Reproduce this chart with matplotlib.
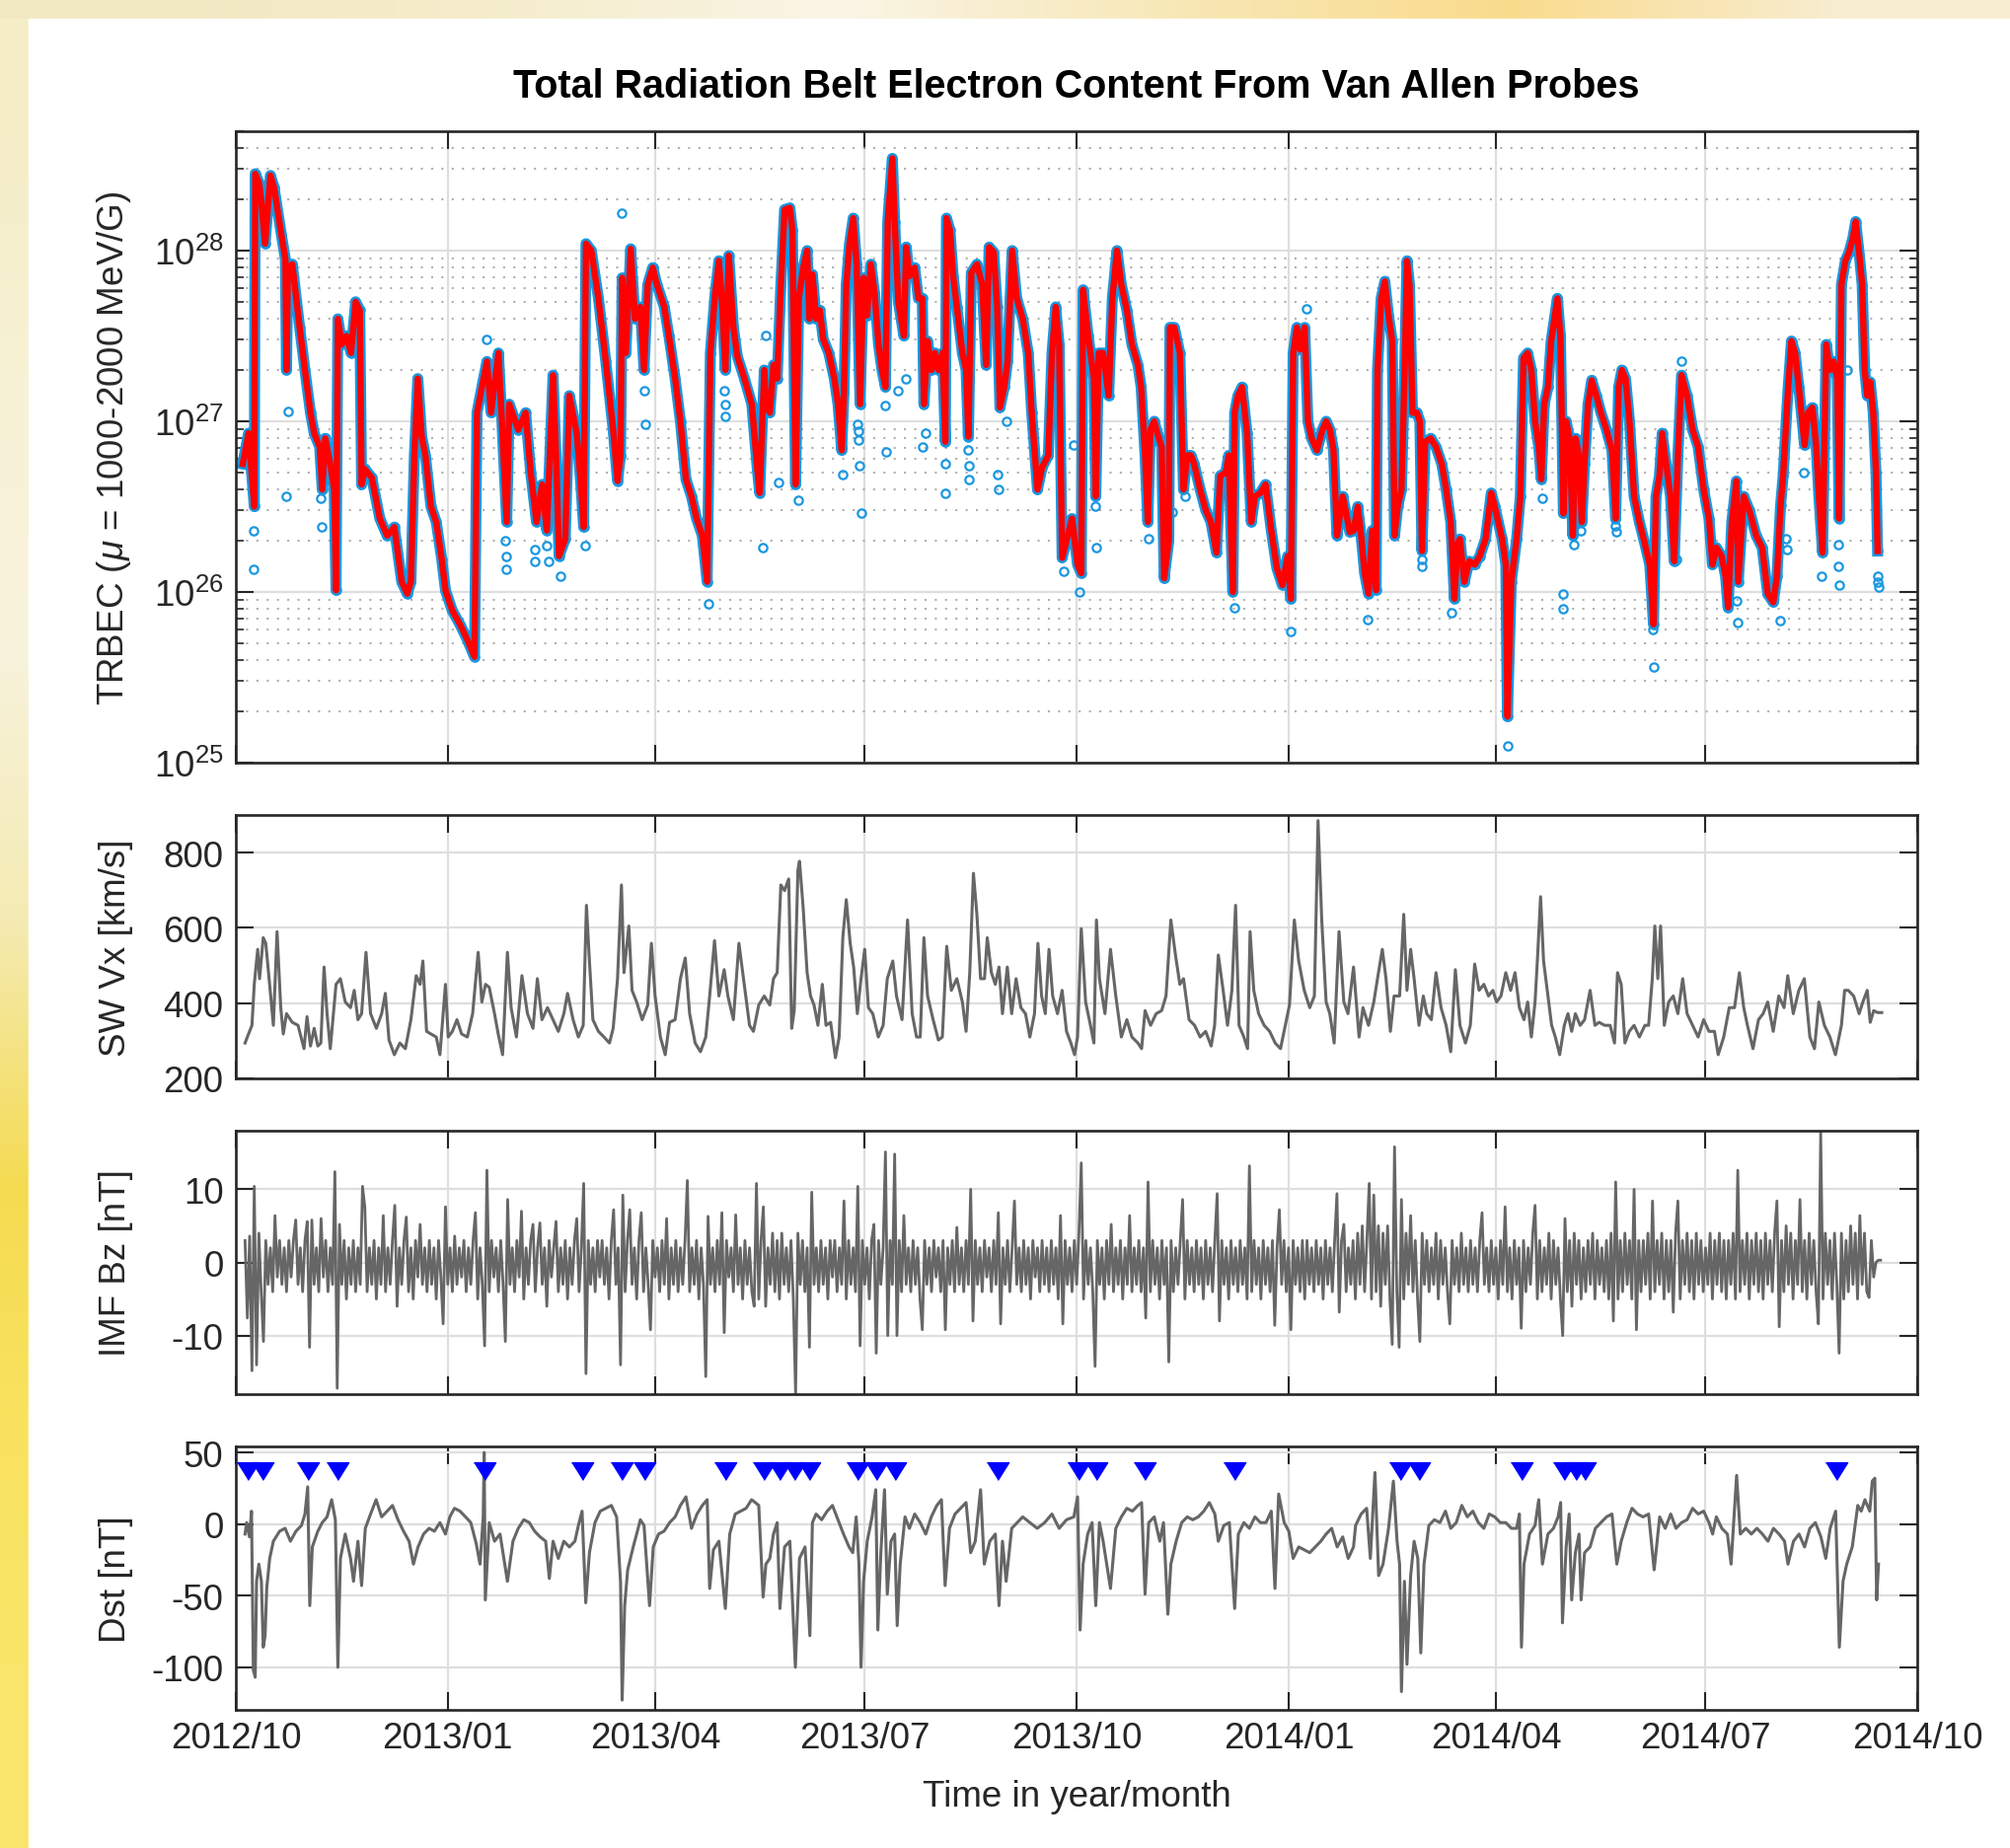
import numpy as np
import matplotlib
matplotlib.use('Agg')
import matplotlib.pyplot as plt
import matplotlib.dates as mdates
from matplotlib.ticker import LogLocator, NullFormatter, FixedLocator
from matplotlib.patches import Rectangle

plt.rcParams['font.family'] = ['Liberation Sans', 'DejaVu Sans']
plt.rcParams['mathtext.fontset'] = 'custom'
plt.rcParams['mathtext.rm'] = 'Liberation Sans'
plt.rcParams['mathtext.it'] = 'Liberation Sans:italic'
plt.rcParams['mathtext.bf'] = 'Liberation Sans:bold'
plt.rcParams['axes.unicode_minus'] = False

# ---------------- data (days since 2012-10-01) ----------------
start_date = np.datetime64('2012-10-01T00:00:00')
end_date = np.datetime64('2014-10-01T00:00:00')

# TRBEC smoothed curve: (day, log10 TRBEC)
trbec_days = [3, 5.5, 8, 8.4, 10, 11, 12.7, 15, 16.6, 19.8, 21.5, 22, 22.6, 24.5, 27.7, 30, 32.4, 34, 36.4, 37.5,
    38.8, 41, 42.7, 43.5, 44.3, 46, 48, 50, 52, 53.8, 54.6, 56, 59, 62.5, 65.7, 68.8, 72, 74.4, 76, 77.5,
    79, 80.7, 82.3, 84.7, 87, 89.4, 91, 94, 97.3, 100.5, 103.6, 104.7, 106.8, 109, 110.8, 114, 115.5, 117.6, 118.7, 122.6,
    125.8, 128, 130.5, 133, 135, 137.7, 139, 140.3, 143, 144.8, 148, 149.5, 151, 152, 154.3, 157.4, 160.6, 163.8, 165.7, 167,
    167.7, 169.3, 171.4, 173.3, 175.6, 177.2, 178.8, 181, 182.8, 186, 188, 190.7, 193, 195.4, 197.8, 200, 202.5, 204.6, 206, 208,
    209.7, 211.2, 212.5, 214, 216, 217.7, 220.8, 224, 226.3, 227.4, 229.4, 230, 231.8, 233.4, 235, 236.6, 238.2, 240.5, 241.6, 243,
    244.4, 246.3, 248, 249, 250.3, 251.9, 253.5, 255, 257.4, 259.8, 261.4, 263, 264, 265, 266.4, 268, 269.5, 271, 272.5, 274,
    275.7, 277.3, 279, 280.5, 282, 283, 285, 286, 287.6, 290, 291, 292.4, 294.7, 296.3, 298, 298.7, 300.3, 302, 303.5, 305,
    306.8, 308, 308.5, 310, 311.4, 313, 315.4, 317, 318, 319.3, 321.7, 324, 325.7, 327, 329, 330.5, 331.7, 333.6, 335, 337,
    339, 341.6, 344, 345.5, 348, 350, 352.7, 354.3, 355.9, 357.4, 358.7, 360.6, 363, 365.4, 367, 367.8, 370, 372.5, 373.3, 374.6,
    376.5, 378.9, 380.5, 382.5, 384.4, 386.8, 389, 391.6, 393, 394.7, 395.9, 397, 398.7, 400, 401.9, 403, 405, 405.5, 407.4, 409.8,
    411.4, 413, 414.6, 416, 418.6, 421, 423.3, 425.7, 427.3, 429.7, 431, 432.8, 433.6, 435, 436.8, 439, 440.8, 442.4, 444.8, 447,
    449.5, 451.9, 454.3, 456.6, 458, 459, 460.6, 462, 464, 465.4, 467, 469.3, 471.7, 473.3, 475, 476.5, 478, 480.5, 482, 483.6,
    485.3, 487, 488.5, 490, 491.7, 493.3, 495, 495.6, 497.2, 498.8, 500.4, 502, 503, 504.4, 506, 507.3, 508.4, 509.5, 510.8, 512.7,
    514, 514.9, 516.3, 518.7, 521, 523.5, 525.4, 527.4, 529, 530.3, 531.4, 533.3, 535.4, 537.8, 540, 542.5, 545, 546.5, 548, 549.7,
    551.3, 552, 553.7, 556, 557.6, 559, 560.8, 562.4, 564, 565.6, 566.7, 568, 569.6, 571, 572.4, 573.7, 575, 576.3, 577.5, 579,
    580.4, 581.6, 583, 584.3, 585.5, 587, 588.6, 590.6, 592.6, 595, 597.4, 599, 600.3, 601.7, 603.3, 605, 607, 609.3, 611.7, 613.8,
    615.4, 616.5, 618, 619.2, 620.4, 622.8, 624.4, 626, 627.6, 630, 632.4, 634.8, 637.2, 639.5, 641, 642.7, 645, 646.7, 647.8, 649.4,
    651.4, 652.2, 654.6, 657, 660, 662.6, 665, 667.4, 669, 670.6, 671.7, 673.8, 675.3, 676.9, 678.5, 681, 682.5, 684.4, 686, 687.2,
    688.8, 690.4, 692, 693.6, 695.2, 696, 697, 698.7, 700.3, 701.9, 703.2, 704.8, 706, 707.1, 708.2, 709.5, 710.8, 712, 712.7]
trbec_log = [26.75, 26.93, 26.5, 28.45, 28.4, 28.3, 28.04, 28.44, 28.37, 28.09, 27.95, 27.3, 27.9, 27.92, 27.55, 27.3, 27.05, 26.93, 26.85, 26.6,
    26.9, 26.75, 26.6, 26.01, 27.6, 27.45, 27.5, 27.4, 27.7, 27.65, 26.63, 26.72, 26.67, 26.43, 26.33, 26.38, 26.06, 25.99, 26.06, 26.8,
    27.25, 26.91, 26.8, 26.5, 26.41, 26.19, 26.01, 25.89, 25.81, 25.72, 25.62, 27.05, 27.2, 27.35, 27.05, 27.4, 27.0, 26.41, 27.1, 26.95,
    27.05, 26.7, 26.41, 26.63, 26.36, 27.27, 26.8, 26.21, 26.31, 27.15, 26.93, 26.68, 26.38, 28.04, 28.0, 27.72, 27.35, 26.95, 26.65, 26.8,
    27.84, 27.4, 28.01, 27.6, 27.67, 27.3, 27.8, 27.9, 27.8, 27.67, 27.5, 27.25, 27.0, 26.66, 26.56, 26.43, 26.33, 26.06, 27.4, 27.74,
    27.94, 27.67, 27.3, 27.97, 27.55, 27.38, 27.25, 27.1, 26.73, 26.58, 27.3, 27.1, 27.05, 27.33, 27.25, 27.8, 28.24, 28.25, 28.12, 26.63,
    27.72, 27.9, 28.0, 27.6, 27.86, 27.6, 27.65, 27.48, 27.4, 27.25, 27.1, 26.83, 27.17, 27.8, 28.04, 28.19, 27.92, 27.1, 27.84, 27.62,
    27.92, 27.75, 27.45, 27.3, 27.2, 28.17, 28.54, 28.17, 27.7, 27.5, 28.02, 27.85, 27.9, 27.72, 27.72, 27.1, 27.47, 27.3, 27.4, 27.3,
    27.4, 26.88, 28.19, 28.12, 27.85, 27.67, 27.4, 27.3, 26.91, 27.87, 27.92, 27.8, 27.33, 28.02, 27.99, 27.67, 27.08, 27.2, 27.35, 28.0,
    27.72, 27.6, 27.4, 27.05, 26.6, 26.73, 26.8, 27.4, 27.67, 27.45, 26.2, 26.3, 26.43, 26.16, 26.11, 27.77, 27.5, 27.25, 26.56, 27.4,
    27.4, 27.15, 27.72, 28.0, 27.8, 27.65, 27.45, 27.33, 27.2, 26.8, 26.41, 26.95, 27.0, 26.93, 26.85, 26.08, 26.3, 27.55, 27.55, 27.4,
    26.6, 26.8, 26.8, 26.75, 26.6, 26.48, 26.41, 26.23, 26.68, 26.7, 26.8, 26.0, 27.05, 27.15, 27.2, 26.93, 26.41, 26.56, 26.58, 26.63,
    26.36, 26.14, 26.04, 26.21, 25.96, 27.4, 27.55, 27.42, 27.55, 27.0, 26.9, 26.83, 26.95, 27.0, 26.95, 26.83, 26.33, 26.56, 26.46, 26.35,
    26.36, 26.5, 26.33, 26.11, 25.99, 26.36, 26.01, 27.3, 27.72, 27.82, 27.62, 27.47, 26.33, 26.5, 26.6, 27.25, 27.94, 27.8, 27.05, 27.05,
    27.0, 26.24, 26.88, 26.9, 26.85, 26.75, 26.6, 26.41, 25.96, 26.28, 26.31, 26.06, 26.18, 26.16, 26.21, 26.31, 26.58, 26.5, 26.41, 26.31,
    26.16, 25.27, 26.06, 26.31, 26.56, 27.37, 27.4, 27.3, 27.0, 26.85, 26.66, 27.1, 27.2, 27.47, 27.6, 27.72, 27.5, 26.46, 27.0, 26.9,
    26.33, 26.9, 26.8, 26.41, 26.75, 27.1, 27.24, 27.15, 27.05, 26.95, 26.83, 26.43, 27.2, 27.3, 27.25, 27.0, 26.56, 26.41, 26.28, 26.16,
    25.81, 26.56, 26.68, 26.93, 26.8, 26.56, 26.18, 26.8, 27.27, 27.15, 26.95, 26.85, 26.6, 26.43, 26.16, 26.26, 26.21, 26.09, 25.91, 26.41,
    26.65, 26.06, 26.56, 26.48, 26.33, 26.26, 25.99, 25.94, 26.09, 26.51, 26.68, 27.18, 27.47, 27.4, 27.2, 26.86, 27.05, 27.08, 26.86, 26.56,
    26.23, 27.45, 27.3, 27.35, 27.25, 26.43, 27.8, 27.94, 27.99, 28.07, 28.17, 27.97, 27.8, 27.3, 27.15, 27.23, 27.05, 26.7, 26.24]

# isolated raw TRBEC samples away from the smoothed curve: (day, log10 TRBEC)
outlier_days = [7.5, 7.6, 22.6, 22, 37.2, 37, 109, 117, 117.2, 117.4, 129.7, 129.9, 135, 136, 140.8, 151.6, 167.4, 177.5,
    177.6, 212, 212.3, 212.6, 230, 228.6, 235.8, 205, 244, 263.5, 270, 270.2, 270.4, 270.6, 271.4, 282, 282.2, 287.5, 291,
    298, 299.5, 308, 308.2, 318, 318.2, 318.4, 330.8, 331, 334.4, 359.3, 363.8, 366.2, 373.3, 373.5, 396.3, 406.6, 412,
    433.6, 457.8, 464.6, 491.4, 514.7, 514.9, 567, 576, 576.2, 580.7, 584, 527.9, 552, 599, 599.2, 615.3, 615.5, 625.5,
    627.6, 651.9, 651.7, 670.5, 673, 673.2, 688.5, 695.5, 695.7, 695.9, 712.7, 712.9, 713.1, 680.5, 699.7]
outlier_log = [26.36, 26.13, 27.06, 26.56, 26.38, 26.55, 27.48, 26.30, 26.21, 26.13, 26.25, 26.18, 26.27, 26.18, 26.09, 26.27, 28.22, 27.18,
    26.98, 27.18, 27.1, 27.03, 27.5, 26.26, 26.64, 25.93, 26.54, 26.69, 26.98, 26.94, 26.89, 26.74, 26.46, 27.09, 26.82, 27.18, 27.25,
    26.85, 26.93, 26.75, 26.58, 26.83, 26.74, 26.66, 26.69, 26.6, 27.0, 26.12, 26.86, 26.0, 26.5, 26.26, 26.31, 26.47, 26.56,
    25.91, 25.77, 27.66, 25.84, 26.19, 26.15, 26.55, 25.99, 25.9, 26.28, 26.36, 25.88, 25.1, 26.39, 26.35, 25.78, 25.56, 26.19,
    27.35, 25.82, 25.95, 25.83, 26.31, 26.25, 26.09, 26.28, 26.15, 26.04, 26.09, 26.06, 26.03, 26.7, 27.3]

# Solar wind Vx (km/s)
vx_days = [4, 5.5, 7, 8, 9.5, 10.3, 11.9, 13, 14.2, 16.3, 17.9, 19.5, 20.6, 22, 24.5, 27, 29.6, 30.9, 32.4, 34,
    35.6, 36.9, 38.3, 39.6, 41, 43.5, 45.4, 47.5, 49.8, 51.4, 53, 54.6, 56.5, 58.5, 61, 63.3, 64.9, 66.5, 68.8, 71.2,
    73.6, 76, 78.3, 80, 81.2, 82.8, 84.7, 87, 88.6, 91, 92.2, 94, 96, 98, 100.5, 102.8, 105.2, 106.8, 108.4, 110,
    112.3, 113.9, 115.8, 117.9, 119.5, 121.8, 124.2, 126.6, 129, 130.9, 132.9, 135.3, 137.7, 140, 142.4, 144, 146.4, 148.7, 150.8, 152.2,
    153.5, 155, 157.4, 159.8, 162.2, 163.8, 165.7, 167.4, 168.5, 170.6, 172, 174, 176.4, 178.8, 180.4, 182, 184.3, 186.4, 188.3, 190.7,
    193, 195.1, 197, 199.4, 201.7, 204, 205.7, 207.8, 209.7, 212, 213.6, 216, 218.4, 220.7, 223, 224.7, 227, 229.4, 231.8, 233.4,
    235, 236.6, 238.2, 240, 241.3, 242.4, 244, 244.7, 246.3, 248, 249.5, 251, 252.7, 254.6, 256.2, 258.2, 260.3, 261.9, 263.5, 265,
    266.7, 268.2, 269.8, 271.4, 273, 274.6, 276.5, 278.9, 281, 282.8, 285.2, 286.8, 289.2, 291.6, 293.6, 295.5, 297.1, 298.7, 300.3, 302.7,
    305, 306.7, 308.6, 310.6, 313, 315.4, 317, 318.6, 320.2, 321.7, 323.3, 325, 326.2, 328, 329.7, 331.3, 332.8, 334.9, 336.8, 338.7,
    340.8, 342.8, 344.7, 346.7, 348.2, 349.8, 351.4, 353, 354.6, 356.7, 358.7, 360.6, 362.5, 364.1, 365.4, 367, 368.9, 371, 372.5, 373.6,
    374.9, 377.3, 379.7, 382, 384.4, 386.8, 389, 391.6, 393.2, 394.7, 397.1, 399.5, 401.9, 403.8, 405.9, 407.9, 409.8, 411.4, 413.8, 416.2,
    418.6, 421, 423.4, 424.9, 426.5, 428.6, 430.5, 432.4, 434, 435.5, 437.6, 439.2, 440.3, 441.9, 444, 446.4, 448.8, 451.2, 453.5, 455.6,
    457.4, 459.5, 461.4, 463.8, 466.2, 468.2, 469.8, 471.4, 473.3, 474.9, 476.8, 478.9, 481, 482.8, 485.2, 487.6, 489.3, 491.7, 494, 495.6,
    497.7, 499.3, 501.2, 502.8, 505.2, 507, 508.4, 510, 511.5, 513.6, 515.5, 517, 519, 521, 523.2, 525.4, 527.4, 529.4, 531.4, 533.8,
    535.9, 537.8, 539.7, 541.8, 543.8, 545.7, 547.3, 549.2, 551.3, 553.4, 555.3, 557.2, 559.2, 560.8, 562.4, 564, 565, 566.4, 567.7, 569.6,
    571.2, 572.8, 574.7, 576.7, 578.3, 579.9, 581.5, 583.6, 585.5, 587.9, 590, 591.8, 594.2, 596.6, 598.5, 599.8, 601.4, 603, 604.9, 607,
    609.3, 611.7, 613.3, 614.9, 616, 617.3, 618.5, 620.1, 622, 624, 626, 628.1, 630, 632.4, 634.8, 637.2, 639.5, 641.9, 643.5, 645.9,
    648.3, 650.6, 652.7, 654.6, 656.2, 658.6, 661, 663, 665, 667.4, 669.8, 672.1, 673.7, 676.1, 678.5, 680.9, 683.3, 685.3, 687.2, 689.6,
    692, 694.4, 697, 698.4, 700, 702.3, 704.7, 706.3, 708.2, 709.5, 711, 712.7, 714.5]
vx_vals = [294, 318, 341, 450, 543, 465, 574, 559, 481, 341, 590, 388, 318, 372, 349, 341, 279, 364, 286, 333,
    286, 294, 496, 372, 279, 450, 465, 403, 388, 434, 356, 372, 535, 372, 333, 372, 426, 302, 263, 294,
    279, 356, 473, 450, 512, 325, 318, 310, 263, 450, 310, 325, 356, 318, 310, 372, 535, 403, 450, 442,
    372, 318, 263, 535, 388, 310, 473, 372, 333, 465, 356, 388, 356, 325, 372, 426, 356, 310, 341, 660,
    512, 356, 325, 310, 294, 333, 465, 714, 481, 605, 434, 403, 356, 395, 559, 419, 310, 263, 349, 356,
    465, 520, 372, 294, 271, 310, 419, 566, 419, 489, 419, 356, 559, 450, 341, 325, 395, 419, 395, 465,
    481, 714, 699, 730, 333, 380, 753, 777, 652, 481, 419, 395, 341, 450, 341, 349, 255, 310, 574, 675,
    559, 496, 372, 465, 543, 388, 372, 310, 341, 465, 512, 419, 356, 621, 372, 310, 310, 574, 419, 356,
    302, 310, 551, 434, 465, 403, 325, 481, 745, 636, 465, 465, 574, 481, 450, 496, 372, 496, 372, 465,
    388, 372, 310, 372, 559, 419, 372, 543, 419, 372, 434, 325, 294, 263, 310, 598, 403, 341, 294, 621,
    465, 372, 543, 419, 310, 356, 310, 294, 279, 380, 341, 372, 380, 419, 621, 528, 450, 465, 356, 341,
    310, 325, 286, 341, 528, 434, 341, 434, 660, 341, 310, 279, 590, 434, 372, 341, 325, 294, 279, 341,
    395, 621, 512, 434, 388, 419, 885, 621, 403, 372, 294, 590, 403, 372, 496, 310, 388, 341, 403, 465,
    543, 465, 325, 419, 419, 636, 434, 543, 465, 341, 419, 372, 356, 481, 388, 341, 271, 489, 341, 294,
    341, 504, 434, 450, 419, 434, 403, 419, 481, 434, 481, 388, 356, 403, 310, 403, 512, 683, 512, 419,
    341, 310, 263, 341, 372, 325, 372, 341, 356, 434, 341, 349, 341, 341, 294, 481, 450, 294, 325, 341,
    310, 341, 341, 465, 605, 465, 605, 341, 403, 419, 372, 465, 372, 341, 310, 356, 325, 325, 263, 310,
    388, 388, 481, 388, 341, 279, 356, 372, 403, 325, 419, 388, 473, 372, 434, 465, 310, 279, 403, 341,
    310, 263, 341, 434, 434, 419, 372, 403, 434, 349, 380, 375, 375]

# IMF Bz (nT), one value per day starting at bz_first_day
bz_first_day = 4
bz_vals = [3, -7.6, 3.6, -14.8, 10.4, -14, 4, -4, -10.8, 3, -3, 2, -4, 6.4, -2, 3,
    -3, 2, -4, 3, -2, 3, 5.8, -3, 2, -4, 3, 5.6, -11.6, 5.8, -3, 2, -4, 6, -2, 3,
    -4, 2, -3, 12.4, -17.2, 5.2, -3, 3, -5, 2, -3, 3, -4, 2, -3, 10.4, 7.6, -4, 2, -3,
    3, -5, 2, -3, 6.4, -4, 2, -3, 3, 7.8, -6, 2, -3, 3, 6.2, -4, 2, -5, 3, -2,
    5.2, -3, 2, -4, 3, -3, 2, -5, 3, -2, -8.4, 7.6, -3, 2, -4, 3.6, -3, 2, -2, 3,
    -4, 2, -3, 3, 6.8, -5, 2, -3, -11.4, 12.6, -4, 3, -2, 2, -4, 3, -3, -10.8, 8.6, -3,
    2, -4, 3, -2, 7, -5, 2, -3, 3, 5.2, -4, 2, 5.4, -3, 2, -6, 3, -2, 2, 5.6,
    -4, 2, -3, 3, -5, 2, -3, 3, 6, -4, 2, 10.8, -15.2, 3, -3, 2, -4, 3, -2, 3,
    -3, 2, -5, 3, 7.2, -3, 2, -14, 9.2, -4, 3, 7.2, -3, 2, -5, 3, 6.8, -4, 2, -3,
    -9.2, 3, -2, 2, -4, 3, -3, 6, -5, 2, -3, 3, -4, 2, -3, 3, 11.2, -4, 2, -3,
    3, -5, 2, -3, -15.6, 6.3, -3, 2, -4, 3, -3, 6.8, -9.6, 3, -2, 2, -4, 6.5, -3, 2,
    -5, 3, -3, 2, -4, -6, 10.8, -5, 3, 7.6, -6, 2, -3, 4, -4, 3, -5, 4, -3, 2,
    -4, 3, -5, -18, 4, -3, 3, -4, 2, -11.6, 9.6, -3, 2, -4, 3, -3, 2, -5, 3, -2,
    3, -4, 2, -3, 8.4, -5, 3, -3, 2, -4, 10.4, -11.4, 3, -3, 2, -5, 3, 5.2, -12.4, 3,
    -3, 2, 15.1, -10, 3, -3, 14.8, -10, 3, -4, 6.4, -3, 2, -4, 3, -3, 2, -5, -9.2, 3,
    -3, 2, -4, 3, -2, 2, -4, 3, -9.2, 2, -3, 3, -4, 4.8, -3, 2, -4, 3, -3, 10,
    -8, 3, -3, 2, -4, 3, -2, 2, -4, 3, -3, 6.8, -8.4, 2, -3, 3, -4, 2, 8.4, -3,
    2, -4, 3, -3, 2, -5, 3, -2, 2, -4, 3, -3, 2, -4, 3, -3, 2, -5, 6.4, -8.4,
    3, -3, 2, -4, 3, -3, 4, 13.6, -5, 3, -3, 2, -4, -14.2, 3, -3, 2, -5, 3, -3,
    5.2, -4, 2, -3, 3, -5, 2, -3, 6.4, -4, 2, -3, 3, -4, 2, -7.6, 11, -4, 3, -3,
    2, -5, 3, -3, 2, -13.6, 3, -4, 2, -3, 3, 8.6, -5, 3, -3, 2, -4, 3, -3, 2,
    -5, 3, -3, 2, -4, 3, 9.4, -8, 3, -3, 2, -5, 3, -3, 2, -4, 3, -3, 2, -5,
    13.2, -4, 3, -3, 2, -5, 3, -3, 2, -4, 3, -8.6, 2, 7.2, -3, 3, -4, 2, -9.2, 3,
    -3, 2, -4, 3, -5, 3, -3, 2, -4, 3, -3, 2, -5, 3, -3, 2, -4, 3, 9.4, -6.8,
    3, 5.2, -4, 2, -3, 3, -5, 4, -3, 5, -4, 3, 10.8, -5, 9.2, -4, 5, -6, 4, -3,
    5, -5, -11.2, 15.8, -4, -11.6, 8.6, -5, 4, -3, 6.4, -4, 3, -5, -10.8, 4, -3, 3, -4, 2,
    -3, 4, -5, 3, -3, 2, -4, -8.4, 3, -3, 2, -4, 4, -3, 2, -4, 3, -3, 2, -4,
    3, 6.8, -3, 2, -4, 3, -3, 2, -5, 3, -3, 7.6, -4, 2, -5, 3, -3, 2, -9, 3,
    -4, 2, -3, 4, 7.8, -5, 3, -4, 2, -3, 4, -5, 3, -3, 2, -5, -10, 6, -4, 3,
    -6, 4, -3, 3, -5, 2, -4, 3, -3, 4, -5, 3, -3, 2, -4, 3, -5, 4, -8, 11,
    -5, 3, -4, 4, -3, 3, -5, 10, -9.2, 3, -4, 3, -3, 4, -5, 8.4, -4, 3, -3, 4,
    -5, 3, -4, 3, -6.8, 4, 8.4, -5, 3, -3, 4, -4, 3, -5, 4, -3, 3, -4, 2, -3,
    4, -5, 3, -3, 4, -4, 3, -5, 3, -3, 4, -5, 12.6, -4, 3, -3, 4, -5, 3, -3,
    4, -4, 3, -5, 4, -3, 3, -4, 4, 8.4, -8.8, 3, -4, 5, -3, 4, -5, 3, -3, 8.6,
    -4, 3, -5, 4, -3, 3, -4, -8.4, 17.8, -5, 4, -3, 3, -5, 4, -3, -12.4, 4, -5, 3,
    -4, 5, -3, 4, -5, 6.4, -3, 4, -4, -4.8, 3, -2, 0, 0.3, 0.3]

# Dst (nT)
dst_days = [4, 4.7, 5.9, 6.8, 7.6, 8.4, 9, 10, 11.1, 11.9, 12.7, 13.4, 14.7, 16.3, 19, 21.4, 23.7, 26.1, 28.5, 30,
    31.2, 32.1, 33.2, 35.6, 37.5, 39.6, 41.6, 43.2, 44.3, 45.4, 47.5, 49.8, 51.1, 53, 54.6, 56.2, 58.5, 60.9, 63.3, 65.7,
    68, 70.4, 72.8, 75.2, 77.1, 79.1, 81.5, 83.9, 86.2, 88.6, 91, 92.9, 94.9, 97.3, 99.7, 102, 104.4, 106, 107.4, 107.8,
    108.3, 110, 112.3, 114.7, 117.9, 120.3, 122.6, 125, 127.4, 129.7, 132.1, 134.5, 136.1, 137.7, 140, 142.4, 144.8, 147.2, 148.7, 150.3,
    151.9, 153.5, 155.9, 158.2, 160.6, 163, 165.3, 167, 167.7, 168.8, 170.1, 172.5, 174, 175.6, 177.2, 179.6, 181.2, 183.5, 185.9, 188.3,
    190.7, 193, 195.4, 197.8, 200.2, 202.5, 204.6, 205.7, 207.3, 209.7, 212.5, 214.4, 216.8, 219.1, 221.5, 223.9, 225.5, 227, 228.9, 230.1,
    231.8, 233.4, 235, 236.2, 238.2, 240.5, 242.9, 244.7, 247.1, 249.2, 250.3, 251.9, 254.3, 256.7, 259, 261.4, 263.8, 266.2, 267.8, 269.3,
    270.5, 271.4, 272.5, 274.1, 276.2, 277.8, 278.7, 280, 281.6, 282.8, 284.4, 286, 287.1, 288.4, 290.5, 292.4, 294.7, 297.1, 299.5, 301.9,
    304.3, 306.3, 307.9, 309.8, 312.2, 314.6, 317, 319, 321, 323.3, 324.9, 327.3, 329.7, 331.3, 332.8, 334.4, 336.8, 339.2, 341.6, 344.7,
    347.9, 351.1, 354.3, 357.4, 360.6, 363.8, 365.4, 366.5, 367.8, 369.8, 371.7, 373.3, 374.9, 376.5, 379.7, 382, 384.4, 386.8, 389.2, 391.6,
    393.2, 394.7, 396.3, 398.7, 401.1, 402.7, 404.6, 405.9, 408.2, 410.6, 413, 415.4, 417.8, 420.2, 422.6, 425, 426.5, 428.9, 431.3, 433.6,
    435.2, 437.6, 440, 442.4, 444.8, 447.2, 449.5, 451.1, 452.7, 455.1, 457.1, 459, 461.4, 463.8, 466.2, 468.6, 471, 473.3, 475.7, 478.1,
    480.5, 482.9, 485.2, 486.1, 488.5, 490.9, 492.5, 494.5, 496.1, 498, 500.4, 502.5, 504.1, 505.2, 506, 507.3, 508.4, 510, 511.5, 513.1,
    514.4, 515.8, 517.9, 520.3, 522.7, 525.1, 527.4, 529.8, 532.2, 534.6, 537, 539.4, 541.8, 544.1, 546.5, 548.9, 551.3, 553.7, 556, 557.2,
    558.1, 559.2, 561.6, 564, 565.6, 567.2, 569.6, 572, 574, 575.1, 575.9, 577.5, 578.8, 579.9, 581.5, 583.1, 584, 585.5, 587.9, 590.2,
    592.6, 595, 597.4, 599.5, 601.4, 603.8, 606.1, 608.5, 610.9, 613.3, 615.7, 618.1, 620.5, 622.9, 625.2, 627.6, 630, 632.4, 634.8, 637.2,
    639.5, 641.1, 642.7, 645.1, 647.5, 649.1, 651.5, 653.1, 655.5, 657.9, 660.3, 662.7, 665.1, 667.5, 669.9, 672.3, 673.8, 676.2, 678.6, 681,
    683.3, 685.7, 688.1, 690.2, 692.1, 694.5, 696.1, 697.7, 699.3, 701.7, 704.1, 705.6, 707.2, 709.3, 710.4, 711.5, 712.3, 713.1]
dst_vals = [-7, 1, -9, 9, -102, -107, -40, -28, -40, -86, -78, -45, -24, -12, -5, -3, -12, -5, -1, 7,
    26, -57, -16, -5, 1, 5, 17, 3, -100, -24, -7, -24, -40, -12, -43, -3, 7, 17, 5, 9,
    13, 3, -5, -12, -28, -16, -7, -3, -5, 1, -7, 5, 11, 9, 5, 1, -14, -28, 5, 50,
    -53, 1, -12, -7, -40, -12, -3, 3, 1, -5, -9, -12, -38, -12, -24, -12, -16, -12, -1, 9,
    -55, -20, 1, 9, 11, 13, 5, -40, -123, -57, -32, -16, -7, 3, -1, -57, -16, -7, -5, 1,
    5, 13, 19, -3, 7, 13, 17, -45, -18, -12, -59, -7, 7, 9, 11, 17, 15, 13, -51, -28,
    -24, -7, 1, -59, -16, -12, -100, -24, -16, -78, 1, 7, 3, 9, 13, 3, -7, -16, -20, 5,
    -28, -100, -40, -12, 5, 24, -74, -20, 24, -49, -12, -7, -71, -28, 5, -3, 7, 1, -7, 5,
    13, 17, -43, -3, 7, 11, 15, -20, -12, 24, -28, -12, -7, -57, -12, -40, -3, 1, 5, 1,
    -3, 1, 7, -3, 3, 5, 19, -74, -28, -7, 1, -57, 1, -12, -45, -3, 5, 11, 9, 13,
    15, -49, 1, 5, -12, 1, -63, -28, -12, 1, 5, 3, 5, 9, 15, 7, -12, -1, 1, -59,
    -7, 1, -3, 5, 1, 1, 9, -45, 21, 1, -5, -24, -16, -18, -20, -16, -12, -7, -3, -16,
    -9, -24, -16, -1, 7, 11, -24, 36, -36, -28, -3, 30, -12, -28, -117, -40, -98, -36, -12, -24,
    -90, -28, -1, 3, 1, 9, -3, 1, 13, 5, 9, 1, -3, 7, 5, 1, 1, -3, -3, 7,
    -86, -28, -7, -1, 17, -28, -7, -3, 5, 15, -69, -16, 7, -53, -20, -7, -53, -20, -16, -3,
    1, 5, 7, -28, -12, 1, 11, 7, 5, 7, -32, 5, -3, 7, -3, 1, 3, 11, 7, 9,
    1, -7, 5, -3, -7, -28, 34, -7, -3, -7, -3, -7, -12, -3, -7, -12, -28, -12, -7, -16,
    -3, 1, -9, -24, -3, 9, -86, -40, -28, -16, 13, 9, 17, 9, 30, 32, -53, -28]

# geomagnetic storm onsets marked on the Dst panel
storm_days = [5.0, 11.7, 31.2, 44.0, 108, 150.3, 167.5, 177.5, 212.6, 229.3, 236, 242.6, 248.7, 269.9,
    278.2, 286, 330.6, 365.6, 373.4, 394.5, 433.5, 505.3, 513.6, 558.2, 576.5, 581.5, 585.4, 695]
storm_marker_level = 37

# ---------------- helpers ----------------
def to_dt(days):
    d = np.asarray(days, dtype=float)
    return start_date + np.round(d * 86400).astype('timedelta64[s]')

W, H = 2037, 1874
fig = plt.figure(figsize=(W / 100, H / 100), dpi=100)
fig.patch.set_facecolor('white')

# slide background (decorative)
bg = fig.add_axes([0, 0, 1, 1], zorder=-10)
bg.set_xlim(0, W); bg.set_ylim(0, H); bg.axis('off')
left_cols = np.array([[0.96, 0.93, 0.78], [0.97, 0.95, 0.84], [0.97, 0.95, 0.86], [0.96, 0.92, 0.70],
                      [0.96, 0.86, 0.32], [0.98, 0.89, 0.38], [0.98, 0.90, 0.42]])
bg.imshow(left_cols[:, None, :], extent=[0, 29, 0, H], aspect='auto', interpolation='bilinear')
top_cols = np.array([[0.95, 0.91, 0.76], [0.96, 0.93, 0.80], [0.98, 0.96, 0.90], [0.97, 0.91, 0.72],
                     [0.98, 0.86, 0.55], [0.97, 0.93, 0.82]])
bg.imshow(top_cols[None, :, :], extent=[0, W, H - 20, H], aspect='auto', interpolation='bilinear')
bg.add_patch(Rectangle((29, 0), W - 29, H - 20, color='white'))

left = 239 / W
width = (1943.4 - 239.2) / W
ax1 = fig.add_axes([left, 1 - 774 / H, width, 640 / H])
ax2 = fig.add_axes([left, 1 - 1094 / H, width, 267 / H])
ax3 = fig.add_axes([left, 1 - 1414 / H, width, 267 / H])
ax4 = fig.add_axes([left, 1 - 1734.3 / H, width, 267 / H])

dark = '#262626'
grey_line = '#666666'
blue_pts = '#1a97e0'

for ax in (ax1, ax2, ax3, ax4):
    ax.set_xlim(start_date, end_date)
    ax.xaxis.set_major_locator(mdates.MonthLocator(bymonth=[1, 4, 7, 10]))
    ax.xaxis.set_major_formatter(mdates.DateFormatter('%Y/%m'))
    ax.tick_params(which='major', direction='in', length=13, width=1.5, top=True, right=True,
                   labelsize=26.5, color=dark, labelcolor=dark)
    ax.tick_params(axis='y', which='major', pad=9)
    ax.tick_params(axis='x', which='major', pad=8)
    ax.tick_params(which='minor', direction='in', length=6, width=1.2, top=False, bottom=False,
                   right=True, left=True, color=dark)
    ax.grid(True, which='major', color='#dedede', lw=1.6)
    ax.set_axisbelow(True)
    for s in ax.spines.values():
        s.set_linewidth(1.9)
        s.set_color(dark)
    ax.yaxis.set_label_coords(-0.061, 0.5)
for ax in (ax1, ax2, ax3):
    ax.tick_params(labelbottom=False)

# ---- panel 1: TRBEC ----
trbec = 10 ** np.array(trbec_log)
outl = 10 ** np.array(outlier_log)
ax1.set_yscale('log')
# dense raw samples hug the smoothed curve: draw them as a blue band under the red line
ax1.plot(to_dt(trbec_days), trbec, '-', color=blue_pts, lw=8, solid_joinstyle='round', zorder=2)
ax1.plot(to_dt(list(trbec_days) + list(outlier_days)), np.concatenate([trbec, outl]), 'o', ls='none',
         mfc='none', mec=blue_pts, ms=6, mew=1.6, zorder=2)
ax1.plot(to_dt(trbec_days), trbec, '-', color='#ff0000', lw=4.6, zorder=3)
ax1.set_ylim(1e25, 5e28)
ax1.yaxis.set_major_locator(FixedLocator([1e25, 1e26, 1e27, 1e28]))
ax1.yaxis.set_minor_locator(LogLocator(base=10, subs=np.arange(2, 10), numticks=50))
ax1.yaxis.set_minor_formatter(NullFormatter())
ax1.yaxis.grid(True, which='minor', color='#b0b0b0', lw=1.5, linestyle=(0, (1, 4)))
ax1.set_ylabel('TRBEC ($\\mu$ = 1000-2000 MeV/G)', fontsize=26.5, color=dark)
ax1.set_title('Total Radiation Belt Electron Content From Van Allen Probes',
              fontsize=28.5, fontweight='bold', color='black', pad=25)

# ---- panel 2: SW Vx ----
ax2.plot(to_dt(vx_days), vx_vals, '-', color=grey_line, lw=2.2)
ax2.set_ylim(200, 900)
ax2.set_yticks([200, 400, 600, 800])
ax2.set_ylabel('SW Vx [km/s]', fontsize=26.5, color=dark)

# ---- panel 3: IMF Bz ----
bz_days = bz_first_day + np.arange(len(bz_vals))
ax3.plot(to_dt(bz_days), bz_vals, '-', color=grey_line, lw=2.0)
ax3.set_ylim(-18, 18)
ax3.set_yticks([-10, 0, 10])
ax3.set_ylabel('IMF Bz [nT]', fontsize=26.5, color=dark)

# ---- panel 4: Dst ----
ax4.plot(to_dt(dst_days), dst_vals, '-', color=grey_line, lw=2.2)
tri = [(-1, 0.8), (1, 0.8), (0, -0.8)]
ax4.plot(to_dt(storm_days), np.full(len(storm_days), storm_marker_level), ls='none', marker=tri,
         ms=16, color='#0000ff', mec='#0000ff', zorder=4, clip_on=False)
ax4.set_ylim(-130, 54)
ax4.set_yticks([-100, -50, 0, 50])
ax4.set_ylabel('Dst [nT]', fontsize=26.5, color=dark)
ax4.set_xlabel('Time in year/month', fontsize=26.5, color=dark, labelpad=17)

fig.savefig('out.png', dpi=100, facecolor=fig.get_facecolor())
